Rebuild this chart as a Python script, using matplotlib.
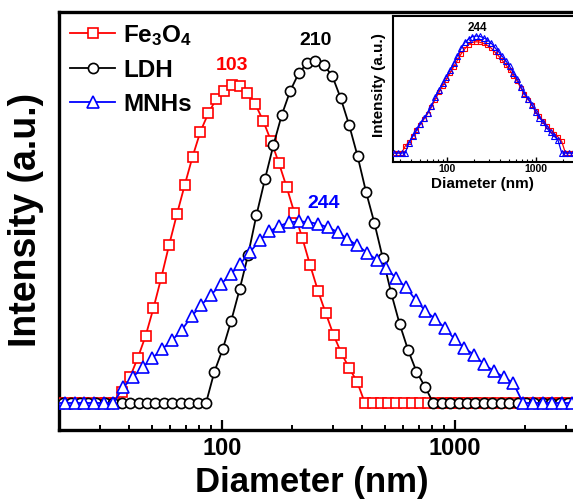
import matplotlib
matplotlib.use('Agg')
import matplotlib.pyplot as plt
from matplotlib.ticker import LogLocator, NullFormatter

plt.rcParams['font.family'] = ['Liberation Sans', 'DejaVu Sans']
plt.rcParams['font.weight'] = 'bold'
plt.rcParams['mathtext.fontset'] = 'custom'
plt.rcParams['mathtext.rm'] = 'Liberation Sans:bold'
plt.rcParams['mathtext.it'] = 'Liberation Sans:bold'
plt.rcParams['mathtext.bf'] = 'Liberation Sans:bold'

# ---------------- data ----------------
fe_diam = [20.1, 21.7, 23.4, 25.3, 27.4, 29.6, 31.9, 34.5, 37.3, 40.3, 43.5, 47.0,
           50.8, 54.9, 59.3, 64.1, 69.2, 74.8, 80.8, 87.4, 94.4, 102.0, 110.2, 119.0,
           128.6, 138.9, 150.1, 162.2, 175.2, 189.4, 204.6, 221.1, 238.8, 258.0, 278.8,
           301.2, 325.4, 351.6, 379.9, 410.5, 443.5, 479.2, 517.7, 559.4, 604.4, 653.0,
           705.5, 762.3, 823.6, 889.9, 961.4, 1039, 1122, 1213, 1310, 1416, 1530, 1653,
           1786, 1929, 2084, 2252, 2433, 2629, 2840, 3069, 3316]
fe_int = [0, 0, 0, 0, 0, 0, 0, 0, 0.55,
          1.30, 2.25, 3.35, 4.74, 6.27, 7.90, 9.45, 10.90, 12.32, 13.57,
          14.49, 15.19, 15.62, 15.90, 15.85, 15.52, 14.95, 14.12, 13.12, 12.02,
          10.80, 9.50, 8.25, 6.90, 5.62, 4.49, 3.40, 2.49, 1.74, 1.07,
          0, 0, 0, 0, 0, 0, 0, 0, 0, 0, 0, 0, 0, 0, 0, 0, 0, 0, 0, 0, 0, 0, 0, 0, 0, 0, 0, 0]

ldh_diam = [19.1, 20.7, 22.5, 24.5, 26.6, 28.9, 31.5, 34.2, 37.1, 40.4, 43.9, 47.7,
            51.8, 56.3, 61.2, 66.5, 72.3, 78.6, 85.4, 92.8, 100.8, 109.6, 119.1, 129.4,
            140.6, 152.9, 166.1, 180.5, 196.2, 213.2, 231.7, 251.8, 273.6, 297.4, 323.2,
            351.2, 381.7, 414.8, 450.8, 489.9, 532.4, 578.6, 628.8, 683.3, 742.6, 807.0,
            877.0, 953.5, 1036, 1126, 1224, 1330, 1445, 1571, 1707, 1855, 2016, 2191,
            2381, 2588, 2812, 3056, 3321]
ldh_int = [0, 0, 0, 0, 0, 0, 0, 0, 0, 0, 0, 0, 0, 0, 0, 0, 0, 0, 0,
           1.57, 2.70, 4.12, 5.69, 7.40, 9.40, 11.19, 12.88, 14.40, 15.60,
           16.48, 16.99, 17.12, 16.90, 16.35, 15.24, 13.90, 12.35, 10.57, 9.00,
           7.24, 5.49, 3.95, 2.65, 1.57, 0.82,
           0, 0, 0, 0, 0, 0, 0, 0, 0, 0, 0, 0, 0, 0, 0, 0, 0, 0]

mnh_diam = [19.2, 21.1, 23.3, 25.6, 28.2, 31.1, 34.2, 37.7, 41.5, 45.7, 50.3, 55.4,
            61.0, 67.2, 74.0, 81.5, 89.7, 98.8, 108.8, 119.7, 131.9, 145.2, 159.9, 176.1,
            193.9, 213.5, 235.1, 258.9, 285.0, 313.9, 345.6, 380.6, 419.0, 461.4, 508.1,
            559.5, 616.1, 678.4, 747.0, 822.6, 905.8, 997.5, 1098, 1209, 1332, 1467,
            1615, 1778, 1958, 2156, 2374, 2615, 2879, 3170]
mnh_int = [0, 0, 0, 0, 0, 0, 0,
           0.80, 1.30, 1.78, 2.25, 2.70, 3.13, 3.65, 4.33, 4.90, 5.40,
           5.93, 6.43, 6.95, 7.55, 8.13, 8.58, 8.85, 9.03, 9.08, 9.05,
           8.95, 8.78, 8.55, 8.20, 7.88, 7.52, 7.15, 6.73, 6.23, 5.78,
           5.15, 4.60, 4.20, 3.75, 3.18, 2.75, 2.40, 1.93, 1.60, 1.30, 1.00,
           0, 0, 0, 0, 0, 0]

# inset: second (red) MNHs measurement on the same size grid
inset_red_int = [0, 0, 0, 0, 0, 0, 0.55,
                 0.85, 1.30, 1.75, 2.20, 2.62, 3.05, 3.55, 4.15, 4.70, 5.20,
                 5.70, 6.20, 6.70, 7.20, 7.70, 8.10, 8.40, 8.58, 8.63, 8.60,
                 8.50, 8.35, 8.15, 7.85, 7.55, 7.20, 6.85, 6.45, 6.00, 5.60,
                 5.05, 4.55, 4.15, 3.75, 3.25, 2.85, 2.50, 2.10, 1.80, 1.50,
                 1.25, 0.90,
                 0, 0, 0, 0, 0]

series_labels = ['Fe$_3$O$_4$', 'LDH', 'MNHs']
peak_labels = ['103', '210', '244']
inset_peak_label = '244'
x_ticks = [100, 1000]
x_tick_labels = ['100', '1000']

# ---------------- figure ----------------
W, H = 573, 499
fig = plt.figure(figsize=(W / 100, H / 100), dpi=100)
ax = fig.add_axes([59.1 / W, 69 / H, 522.7 / W, 418 / H])
ax.set_xscale('log')
ax.set_xlim(20, 3500)
ax.set_ylim(-1.35, 19.55)

ax.plot(fe_diam, fe_int, '-s', color='#ff0000', mfc='white', mec='#ff0000',
        ms=6.8, lw=1.3, mew=1.2, zorder=3, label=series_labels[0])
ax.plot(ldh_diam, ldh_int, '-o', color='black', mfc='white', mec='black',
        ms=7.3, lw=1.3, mew=1.2, zorder=4, label=series_labels[1])
ax.plot(mnh_diam, mnh_int, '-^', color='#0000ff', mfc='white', mec='#0000ff',
        ms=8.6, lw=1.3, mew=1.2, zorder=5, label=series_labels[2])

for s in ax.spines.values():
    s.set_linewidth(2.4)
ax.set_xticks(x_ticks)
ax.set_xticklabels(x_tick_labels)
ax.xaxis.set_minor_locator(LogLocator(base=10, subs=(2, 3, 4, 5, 6, 7, 8, 9)))
ax.xaxis.set_minor_formatter(NullFormatter())
ax.tick_params(axis='x', which='major', direction='in', length=7, width=1.6,
               labelsize=17, pad=5, top=False)
ax.tick_params(axis='x', which='minor', direction='in', length=3.5, width=1.4, top=False)
ax.tick_params(axis='y', left=False, labelleft=False, right=False)

ax.text(110, 16.9, peak_labels[0], color='#ff0000', ha='center', va='center',
        fontsize=14, fontweight='bold')
ax.text(251, 18.15, peak_labels[1], color='black', ha='center', va='center',
        fontsize=14, fontweight='bold')
ax.text(272, 9.98, peak_labels[2], color='#0000ff', ha='center', va='center',
        fontsize=14, fontweight='bold')

ax.legend(loc='upper left', bbox_to_anchor=(0.0, 1.0), frameon=False, fontsize=17.5,
          handlelength=1.85, handletextpad=0.33, labelspacing=0.45,
          borderaxespad=0.2, borderpad=0.25, numpoints=1)

fig.text(312 / W, (H - 491.7) / H, 'Diameter (nm)', ha='center', va='baseline',
         fontsize=25, fontweight='bold')
fig.text(26.5 / W, 1 - 220 / H, 'Intensity (a.u.)', rotation=90, ha='center',
         va='center', fontsize=27, fontweight='bold')

# ---------------- inset ----------------
axin = fig.add_axes([392.7 / W, (H - 161.7) / H, (578.2 - 392.7) / W, (161.7 - 15.5) / H])
axin.set_xscale('log')
axin.set_xlim(24.7, 3000)
axin.set_ylim(-0.675, 10.67)
axin.plot(mnh_diam, inset_red_int, '-s', color='#ff0000', mfc='none', mec='#ff0000',
          ms=3.2, lw=0.9, mew=0.8, zorder=3)
axin.plot(mnh_diam, mnh_int, '-^', color='#0000ff', mfc='none', mec='#0000ff',
          ms=3.8, lw=0.9, mew=0.8, zorder=4)
for s in axin.spines.values():
    s.set_linewidth(1.5)
axin.set_xticks(x_ticks)
axin.set_xticklabels(x_tick_labels)
axin.xaxis.set_minor_locator(LogLocator(base=10, subs=(2, 3, 4, 5, 6, 7, 8, 9)))
axin.xaxis.set_minor_formatter(NullFormatter())
axin.tick_params(axis='x', which='major', direction='in', length=3.5, width=1.0,
                 labelsize=7.5, pad=2, top=False)
axin.tick_params(axis='x', which='minor', direction='in', length=2, width=0.8, top=False)
axin.tick_params(axis='y', left=False, labelleft=False)
axin.text(219, 9.72, inset_peak_label, ha='center', va='center', fontsize=8.5,
          fontweight='bold')
fig.text(482.7 / W, (H - 188.3) / H, 'Diameter (nm)', ha='center', va='baseline',
         fontsize=11, fontweight='bold')
fig.text(379 / W, 1 - 85 / H, 'Intensity (a.u.)', rotation=90, ha='center',
         va='center', fontsize=11, fontweight='bold')

fig.savefig('out.png', dpi=100)
